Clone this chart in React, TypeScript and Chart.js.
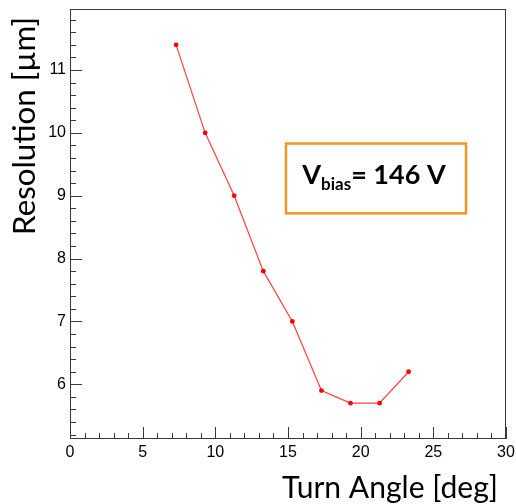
import React, { useEffect, useRef } from "react";
import { Chart, registerables } from "chart.js";

Chart.register(...registerables);

// ---- data ----
const turnAngle = [7.3, 9.3, 11.3, 13.3, 15.3, 17.3, 19.3, 21.3, 23.3];
const resolution = [11.4, 10.0, 9.0, 7.8, 7.0, 5.9, 5.7, 5.7, 6.2];
const xTickValues = [0, 5, 10, 15, 20, 25, 30];
const yTickValues = [6, 7, 8, 9, 10, 11];
const xRange = [0, 30];
const yRange = [5.13, 11.97];
const xTitle = "Turn Angle [deg]";
const yTitle = "Resolution [µm]";
const labelMain = "V";
const labelSub = "bias";
const labelRest = "= 146 V";
const labelBoxX = [14.86, 27.25];
const labelBoxY = [8.72, 9.83];

const TITLE_FONT = "Lato, 'Open Sans', sans-serif";
const TICK_FONT = "'Liberation Sans', Arial, Helvetica, sans-serif";

function fitSize(ctx: CanvasRenderingContext2D, text: string, weight: string, family: string, target: number) {
  ctx.font = `${weight} 100px ${family}`;
  const w = ctx.measureText(text).width;
  return (100 * target) / w;
}

function zeroPadding(s: any) {
  s.paddingTop = 0;
  s.paddingBottom = 0;
  s.paddingLeft = 0;
  s.paddingRight = 0;
}

const rootStylePlugin = {
  id: "rootStyle",
  beforeDatasetsDraw(chart: any) {
    const { ctx, chartArea: a, scales } = chart;
    const x = scales.x;
    const y = scales.y;
    ctx.save();
    ctx.strokeStyle = "#3a3a3a";
    ctx.lineWidth = 1;
    ctx.beginPath();
    for (let v = xRange[0]; v <= xRange[1] + 1e-9; v += 1) {
      const px = Math.round(x.getPixelForValue(v)) + 0.5;
      const len = Math.abs(v % 5) < 1e-6 ? 12 : 6;
      ctx.moveTo(px, a.bottom);
      ctx.lineTo(px, a.bottom - len);
    }
    const start = Math.ceil(yRange[0] / 0.2 - 1e-6);
    const end = Math.floor(yRange[1] / 0.2 + 1e-6);
    for (let i = start; i <= end; i++) {
      const v = i * 0.2;
      const py = Math.round(y.getPixelForValue(v)) + 0.5;
      const major = Math.abs(v - Math.round(v)) < 1e-6;
      const len = major ? 12 : 6;
      ctx.moveTo(a.left, py);
      ctx.lineTo(a.left + len, py);
    }
    ctx.stroke();
    ctx.strokeRect(Math.round(a.left) + 0.5, Math.round(a.top) + 0.5, Math.round(a.right - a.left) - 1, Math.round(a.bottom - a.top) - 1);
    ctx.restore();
  },
  afterDraw(chart: any) {
    const { ctx, chartArea: a, scales } = chart;
    const x = scales.x;
    const y = scales.y;
    ctx.save();
    ctx.fillStyle = "#000";

    // x title (right aligned)
    const xs = fitSize(ctx, xTitle, "normal", TITLE_FONT, 216);
    ctx.font = `normal ${xs}px ${TITLE_FONT}`;
    ctx.textAlign = "right";
    ctx.textBaseline = "alphabetic";
    ctx.fillText(xTitle, a.right - 8, 498);

    // y title (rotated, top aligned)
    const ys = fitSize(ctx, yTitle, "normal", TITLE_FONT, 218);
    ctx.save();
    ctx.translate(35, a.top + 8);
    ctx.rotate(-Math.PI / 2);
    ctx.font = `normal ${ys}px ${TITLE_FONT}`;
    ctx.textAlign = "right";
    ctx.textBaseline = "alphabetic";
    ctx.fillText(yTitle, 0, 0);
    ctx.restore();

    // label box
    const bx0 = x.getPixelForValue(labelBoxX[0]);
    const bx1 = x.getPixelForValue(labelBoxX[1]);
    const by0 = y.getPixelForValue(labelBoxY[1]);
    const by1 = y.getPixelForValue(labelBoxY[0]);
    ctx.fillStyle = "#ffffff";
    ctx.fillRect(bx0, by0, bx1 - bx0, by1 - by0);
    ctx.strokeStyle = "#F7961E";
    ctx.lineWidth = 2.5;
    ctx.strokeRect(bx0, by0, bx1 - bx0, by1 - by0);

    const mainSize = 27;
    const subSize = 17;
    ctx.fillStyle = "#000";
    ctx.textAlign = "left";
    ctx.textBaseline = "alphabetic";
    ctx.font = `bold ${mainSize}px ${TITLE_FONT}`;
    const wMain = ctx.measureText(labelMain).width;
    const wRest = ctx.measureText(labelRest).width;
    ctx.font = `bold ${subSize}px ${TITLE_FONT}`;
    const wSub = ctx.measureText(labelSub).width;
    const total = wMain + wSub + wRest;
    const cx = (bx0 + bx1) / 2 - 2;
    const base = (by0 + by1) / 2 + 6;
    let tx = cx - total / 2;
    ctx.font = `bold ${mainSize}px ${TITLE_FONT}`;
    ctx.fillText(labelMain, tx, base);
    tx += wMain;
    ctx.font = `bold ${subSize}px ${TITLE_FONT}`;
    ctx.fillText(labelSub, tx, base + 6);
    tx += wSub;
    ctx.font = `bold ${mainSize}px ${TITLE_FONT}`;
    ctx.fillText(labelRest, tx, base);
    ctx.restore();
  },
};

export default function App() {
  const ref = useRef<HTMLCanvasElement | null>(null);
  useEffect(() => {
    if (!ref.current) return;
    const chart = new Chart(ref.current, {
      type: "line",
      data: {
        datasets: [
          {
            data: turnAngle.map((v, i) => ({ x: v, y: resolution[i] })),
            borderColor: "rgba(255,30,30,0.85)",
            borderWidth: 1.2,
            pointRadius: 2.4,
            pointBackgroundColor: "#ff0000",
            pointBorderWidth: 0,
            tension: 0,
          },
        ],
      },
      options: {
        responsive: false,
        maintainAspectRatio: false,
        animation: false,
        layout: { padding: { top: 9, right: 10, left: 0, bottom: 0 } },
        plugins: { legend: { display: false }, tooltip: { enabled: false } },
        scales: {
          x: {
            type: "linear",
            min: xRange[0],
            max: xRange[1],
            afterBuildTicks: (s: any) => {
              s.ticks = xTickValues.map((v) => ({ value: v }));
            },
            afterFit: (s: any) => {
              s.height = 65;
              zeroPadding(s);
            },
            grid: { display: false, drawTicks: false },
            border: { display: false },
            ticks: {
              color: "#000",
              padding: 4,
              maxRotation: 0,
              autoSkip: false,
              font: { family: TICK_FONT, size: 16 },
            },
          },
          y: {
            type: "linear",
            min: yRange[0],
            max: yRange[1],
            afterBuildTicks: (s: any) => {
              s.ticks = yTickValues.map((v) => ({ value: v }));
            },
            afterFit: (s: any) => {
              s.width = 70;
              zeroPadding(s);
            },
            grid: { display: false, drawTicks: false },
            border: { display: false },
            ticks: {
              color: "#000",
              padding: 4,
              autoSkip: false,
              font: { family: TICK_FONT, size: 16 },
            },
          },
        },
      },
      plugins: [rootStylePlugin],
    } as any);
    return () => chart.destroy();
  }, []);
  return (
    <div style={{ position: "absolute", left: 0, top: 0, width: 516, height: 504, background: "#fff" }}>
      <canvas ref={ref} width={516} height={504} style={{ display: "block", width: 516, height: 504 }} />
    </div>
  );
}
